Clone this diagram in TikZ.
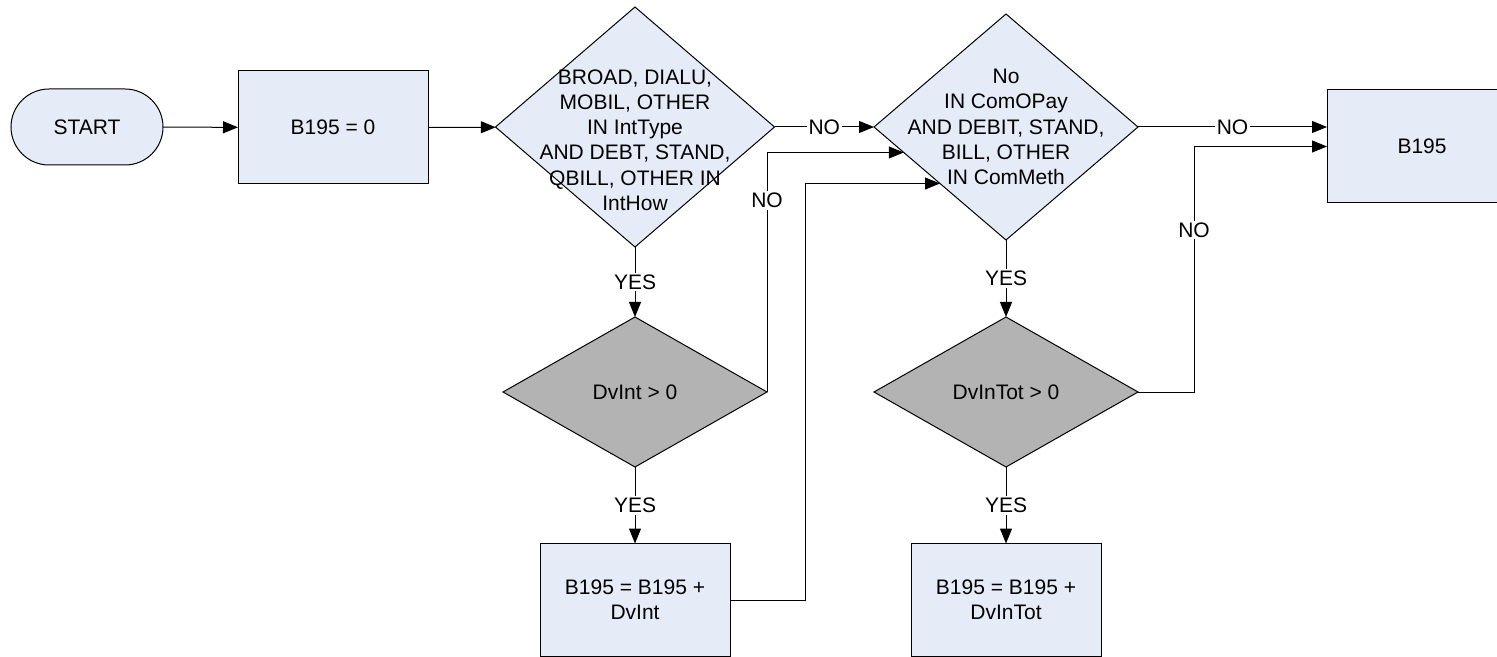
\documentclass[tikz,border=0pt]{standalone}
\usepackage{fontspec}
\setmainfont{Liberation Sans}
\usepackage{tikz}
\usetikzlibrary{shapes.geometric, shapes.misc, arrows.meta}
\definecolor{boxblue}{HTML}{E6ECF7}
\definecolor{testgray}{HTML}{B3B3B3}
\tikzset{
	flownode/.style={
			draw=black,
			line width=0.5pt,
			fill=boxblue,
			inner sep=0pt,
			outer sep=0pt,
			align=center,
			font=\fontsize{10.5}{12.6}\selectfont
		},
	startnode/.style={
			flownode,
			rounded rectangle,
			minimum width=76pt,
			minimum height=38pt
		},
	procnode/.style={
			flownode,
			rectangle,
			minimum width=95pt,
			minimum height=56.5pt
		},
	asknode/.style={
			flownode,
			diamond
		},
	testnode/.style={
			asknode,
			fill=testgray,
			minimum width=132pt,
			minimum height=75pt
		},
	textnode/.style={
			align=center,
			inner sep=0pt,
			font=\fontsize{10.5}{12.6}\selectfont
		},
	arrowlabel/.style={
			fill=white,
			inner sep=1pt,
			font=\fontsize{10.5}{12.6}\selectfont
		},
	flowline/.style={
			line width=0.5pt,
			-{Triangle[length=7.5pt, width=6pt]}
		}
}

\begin{document}
\begin{tikzpicture}[x=0.5pt, y=-0.5pt]
\clip (0,0) rectangle (1497,657);

\node (start) at (87,127) [startnode] {START};
\node (b0) at (333,127.5) [procnode] {B195 = 0};
\node (d1) at (635,127) [asknode, minimum width=139.5pt, minimum height=120pt] {};
\node (t1) at (635,140) [textnode] {BROAD, DIALU,\\MOBIL, OTHER\\IN IntType\\AND DEBT, STAND,\\QBILL, OTHER IN\\IntHow};
\node (d2) at (1006,127) [asknode, minimum width=132pt, minimum height=113pt] {};
\node (t2) at (1006,127) [textnode] {No\\IN ComOPay\\AND DEBIT, STAND,\\BILL, OTHER\\IN ComMeth};
\node (d3) at (635,392) [testnode] {DvInt > 0};
\node (d4) at (1006,392) [testnode] {DvInTot > 0};
\node (b1) at (635,600) [procnode] {B195 = B195 +\\DvInt};
\node (b2) at (1006,600) [procnode] {B195 = B195 +\\DvInTot};
\node (bend) at (1422,146.5) [procnode] {B195};

\draw[flowline] (start) -- (b0);
\draw[flowline] (b0) -- (d1);
\draw[flowline] (d1) -- node[arrowlabel] {NO} (d2);
\draw[flowline] (d2) -- node[arrowlabel] {NO} (d2 -| bend.west);

\draw[flowline] (d1) -- node[arrowlabel] {YES} (d3);
\draw[flowline] (d3) -- node[arrowlabel] {YES} (b1);
\draw[flowline] (d2) -- node[arrowlabel] {YES} (d4);
\draw[flowline] (d4) -- node[arrowlabel] {YES} (b2);

\draw[flowline] (d3.east) |- node[arrowlabel, pos=0.4] {NO} (d2.194);
\draw[flowline] (b1.east) -- ++(75,0) |- (d2.south west);
\draw[flowline] (d4.east) -- ++(56,0) |- node[arrowlabel, pos=0.33] {NO} (bend.west);

\end{tikzpicture}
\end{document}
